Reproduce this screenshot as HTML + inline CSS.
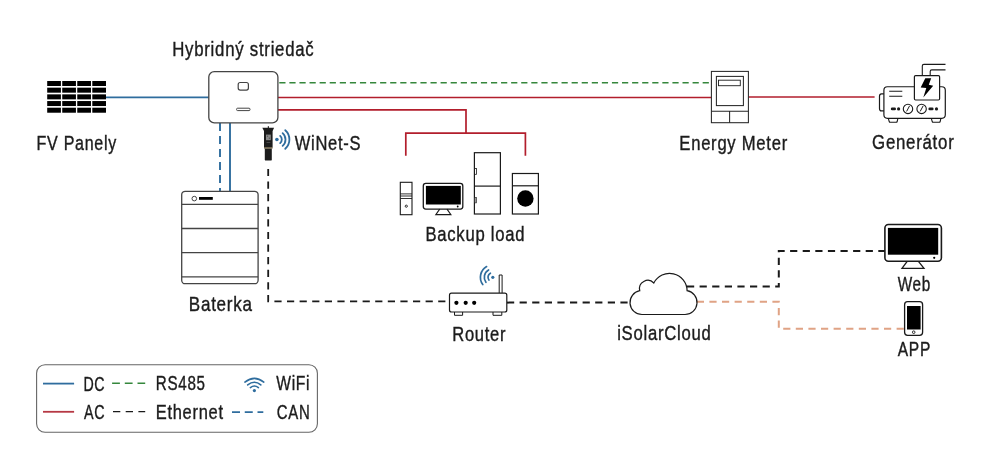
<!DOCTYPE html>
<html><head><meta charset="utf-8"><style>
html,body{margin:0;padding:0;background:#fff;}
svg{display:block;font-family:"Liberation Sans",sans-serif;will-change:transform;}
</style></head><body>
<svg width="1000" height="456" viewBox="0 0 1000 456">
<rect width="1000" height="456" fill="#fff"/>
<rect x="47.20" y="81.00" width="13.7" height="5" fill="#000"/>
<rect x="62.23" y="81.00" width="13.7" height="5" fill="#000"/>
<rect x="77.26" y="81.00" width="13.7" height="5" fill="#000"/>
<rect x="92.29" y="81.00" width="13.7" height="5" fill="#000"/>
<rect x="47.20" y="87.68" width="13.7" height="5" fill="#000"/>
<rect x="62.23" y="87.68" width="13.7" height="5" fill="#000"/>
<rect x="77.26" y="87.68" width="13.7" height="5" fill="#000"/>
<rect x="92.29" y="87.68" width="13.7" height="5" fill="#000"/>
<rect x="47.20" y="94.36" width="13.7" height="5" fill="#000"/>
<rect x="62.23" y="94.36" width="13.7" height="5" fill="#000"/>
<rect x="77.26" y="94.36" width="13.7" height="5" fill="#000"/>
<rect x="92.29" y="94.36" width="13.7" height="5" fill="#000"/>
<rect x="47.20" y="101.04" width="13.7" height="5" fill="#000"/>
<rect x="62.23" y="101.04" width="13.7" height="5" fill="#000"/>
<rect x="77.26" y="101.04" width="13.7" height="5" fill="#000"/>
<rect x="92.29" y="101.04" width="13.7" height="5" fill="#000"/>
<rect x="47.20" y="107.72" width="13.7" height="5" fill="#000"/>
<rect x="62.23" y="107.72" width="13.7" height="5" fill="#000"/>
<rect x="77.26" y="107.72" width="13.7" height="5" fill="#000"/>
<rect x="92.29" y="107.72" width="13.7" height="5" fill="#000"/>
<path d="M106,97.3 H208.8" stroke="#2f6d9e" stroke-width="1.7" fill="none"/>
<path d="M279.3,82.7 H711" stroke="#35873c" stroke-width="1.6" stroke-dasharray="6.2 3.88" fill="none"/>
<path d="M278,97.5 H711.4" stroke="#b21e2c" stroke-width="1.7" fill="none"/>
<path d="M748.4,97 H874.6" stroke="#b21e2c" stroke-width="1.7" fill="none"/>
<path d="M278,109.9 H466 V133.1" stroke="#b21e2c" stroke-width="1.7" fill="none"/>
<path d="M405.8,155.7 V133.1 H525.4 V155.7" stroke="#b21e2c" stroke-width="1.7" fill="none"/>
<path d="M220,123 V191.3" stroke="#2f6d9e" stroke-width="1.9" stroke-dasharray="8 5" fill="none"/>
<path d="M230,123 V191.3" stroke="#2f6d9e" stroke-width="1.9" fill="none"/>
<path d="M268.2,168.9 V301.3 H449.5" stroke="#1a1a1a" stroke-width="1.8" stroke-dasharray="7.2 5.4" fill="none"/>
<path d="M507,302.6 H630.3" stroke="#1a1a1a" stroke-width="2" stroke-dasharray="7.2 5.4" fill="none"/>
<path d="M687,286.5 H778.8 V251 H885" stroke="#1a1a1a" stroke-width="2" stroke-dasharray="7.2 5.4" fill="none"/>
<path d="M696.8,301.8 H778.8 V328.8 H904.6" stroke="#e0a385" stroke-width="2" stroke-dasharray="7.2 5.4" fill="none"/>
<rect x="208.8" y="71.6" width="69.1" height="51.3" rx="5.5" fill="#fff" stroke="#444444" stroke-width="1.3"/>
<rect x="238.2" y="82.5" width="10.2" height="7.6" rx="2" fill="none" stroke="#444444" stroke-width="1.2"/>
<rect x="236.6" y="108.2" width="13.4" height="2.4" rx="1" fill="none" stroke="#444444" stroke-width="1"/>
<rect x="181.7" y="191.3" width="76.4" height="92.4" rx="3.5" fill="#fff" stroke="#444444" stroke-width="1.3"/>
<path d="M181.7,204.3 H258.1" stroke="#444444" stroke-width="1.3"/>
<path d="M181.7,228.5 H258.1" stroke="#444444" stroke-width="1.3"/>
<path d="M181.7,252.6 H258.1" stroke="#444444" stroke-width="1.3"/>
<path d="M181.7,276.8 H258.1" stroke="#444444" stroke-width="1.3"/>
<circle cx="194.3" cy="198.6" r="2.3" fill="none" stroke="#444444" stroke-width="1"/>
<rect x="199" y="197" width="13.8" height="2.8" fill="#000"/>
<path d="M262.3,127.8 H274.1 L272.6,131 V147.6 H264 V131 Z" fill="#1c1c1c"/>
<rect x="267.8" y="126.2" width="1.1" height="2" fill="#1c1c1c"/>
<path d="M264.8,148.6 H271.8 V159.4 Q271.8,160.6 270.6,160.6 H266 Q264.8,160.6 264.8,159.4 Z" fill="#1c1c1c"/>
<rect x="264" y="147.4" width="8.6" height="1.1" fill="#5a4a26"/>
<rect x="266" y="134.6" width="4.8" height="5.6" fill="#8a8a8a"/>
<rect x="266.9" y="135.6" width="1.2" height="1.2" fill="#555"/><rect x="268.8" y="137.6" width="1.2" height="1.2" fill="#555"/>
<rect x="266.5" y="142" width="3.8" height="0.8" fill="#555"/>
<circle cx="276.9" cy="139.5" r="1.8" fill="#2f6d9e"/>
<path d="M280.18,135.86 A4.9,4.9 0 0 1 280.18,143.14" fill="none" stroke="#2f6d9e" stroke-width="1.8" stroke-linecap="round"/>
<path d="M282.65,133.11 A8.6,8.6 0 0 1 282.65,145.89" fill="none" stroke="#2f6d9e" stroke-width="1.8" stroke-linecap="round"/>
<path d="M285.26,130.21 A12.5,12.5 0 0 1 285.26,148.79" fill="none" stroke="#2f6d9e" stroke-width="1.8" stroke-linecap="round"/>
<rect x="400.3" y="182.3" width="11.7" height="32.4" fill="none" stroke="#1a1a1a" stroke-width="1.1"/>
<path d="M400.3,193.9 H412" stroke="#1a1a1a" stroke-width="0.9"/>
<path d="M400.3,196 H412" stroke="#1a1a1a" stroke-width="0.9"/>
<path d="M400.3,198.5 H412" stroke="#1a1a1a" stroke-width="0.9"/>
<circle cx="406.3" cy="206.2" r="1.1" fill="none" stroke="#1a1a1a" stroke-width="0.9"/>
<rect x="423.3" y="183.4" width="39.5" height="25.7" rx="2.5" fill="none" stroke="#1a1a1a" stroke-width="1.3"/>
<rect x="425.9" y="185.9" width="34.9" height="18.6" fill="#000"/>
<circle cx="457.7" cy="206.5" r="0.9" fill="#000"/>
<path d="M439.7,209.1 L435.8,214.6 H450.9 L447,209.1" fill="none" stroke="#1a1a1a" stroke-width="1.1"/>
<rect x="474.4" y="152.7" width="26" height="61.3" fill="none" stroke="#1a1a1a" stroke-width="1.2"/>
<path d="M474.4,186.1 H500.4" stroke="#1a1a1a" stroke-width="1.2"/>
<rect x="474.4" y="168.5" width="2.1" height="5.8" fill="none" stroke="#1a1a1a" stroke-width="0.8"/>
<rect x="474.4" y="197.3" width="2.1" height="5.6" fill="#999" stroke="#1a1a1a" stroke-width="0.6"/>
<rect x="512.4" y="173.5" width="26" height="40.5" fill="none" stroke="#1a1a1a" stroke-width="1.2"/>
<path d="M512.4,185.8 H538.4" stroke="#1a1a1a" stroke-width="1.2"/>
<circle cx="525.4" cy="198.5" r="8.2" fill="#000"/>
<rect x="711.4" y="71.4" width="37" height="51.3" fill="#fff" stroke="#262626" stroke-width="1.05"/>
<rect x="716.4" y="76.4" width="27" height="29.2" fill="none" stroke="#262626" stroke-width="1.05"/>
<rect x="718.5" y="80.2" width="21.8" height="5.5" fill="none" stroke="#262626" stroke-width="0.95"/>
<path d="M711.4,111.3 H748.4 M729.6,111.3 V122.7" stroke="#262626" stroke-width="1.05"/>
<path d="M914.4,86.75 H887.4 Q883.9,86.75 883.9,90.25 V114.8 Q883.9,118.3 887.4,118.3 H941.8 Q945.3,118.3 945.3,114.8 V90.25 Q945.3,86.75 941.8,86.75 H939.6" fill="none" stroke="#1a1a1a" stroke-width="1.2"/>
<path d="M883.9,93.8 H881.5 Q879.5,93.8 879.5,96.3 V108.4 Q879.5,110.9 881.5,110.9 H883.9" fill="none" stroke="#1a1a1a" stroke-width="1.2"/>
<path d="M922.3,75.6 V66 Q922.3,64.4 923.9,64.4 H945.5 M930.2,75.6 V71.5 Q930.2,69.9 931.8,69.9 H945.5" fill="none" stroke="#1a1a1a" stroke-width="1.1"/>
<rect x="914.4" y="75.6" width="25.2" height="24.4" rx="1.2" fill="#fff" stroke="#1a1a1a" stroke-width="1.2"/>
<path d="M925.3,78.3 L931.2,78.3 L928.8,84.7 L933.2,85.7 L923.3,97.5 L926.3,88.1 L920.7,87.4 Z" fill="#000"/>
<path d="M889.2,91.3 H902.3 M889.2,96.2 H902.3" stroke="#1a1a1a" stroke-width="1.1"/>
<circle cx="908" cy="108.9" r="4.7" fill="none" stroke="#1a1a1a" stroke-width="1.1"/>
<circle cx="921.6" cy="108.9" r="4.7" fill="none" stroke="#1a1a1a" stroke-width="1.1"/>
<path d="M906.6,111.4 L909.6,105.8 M920.2,111.4 L923.2,105.8" stroke="#1a1a1a" stroke-width="1"/>
<path d="M892.2,108.9 H894.6 M929.8,108.9 H932.2" stroke="#1a1a1a" stroke-width="2.8" stroke-linecap="round"/>
<circle cx="898.6" cy="108.9" r="1.6" fill="#1a1a1a"/><circle cx="936.5" cy="108.9" r="1.6" fill="#1a1a1a"/>
<path d="M888.3,118.3 L889.3,121.8 Q889.5,122.3 890.2,122.3 H896.2 Q896.9,122.3 897.1,121.8 L897.9,118.3 M931.3,118.3 L932.3,121.8 Q932.5,122.3 933.2,122.3 H939.2 Q939.9,122.3 940.1,121.8 L940.9,118.3" fill="none" stroke="#1a1a1a" stroke-width="1.1"/>
<path d="M499.2,293.2 V275 H502.1 V293.2" fill="#fff" stroke="#1a1a1a" stroke-width="1"/>
<rect x="449.5" y="293.2" width="57.3" height="18.8" rx="2" fill="#fff" stroke="#1a1a1a" stroke-width="1.2"/>
<circle cx="456.4" cy="302.8" r="2.1" fill="#000"/>
<circle cx="465.7" cy="302.8" r="2.1" fill="#000"/>
<circle cx="474.2" cy="302.8" r="2.1" fill="#000"/>
<path d="M454.5,312 V315.3 H462.6 V312 M493,312 V315.3 H501.8 V312" fill="none" stroke="#1a1a1a" stroke-width="1"/>
<circle cx="492.8" cy="277.3" r="1.6" fill="#2f6d9e"/>
<path d="M488.92,280.12 A4.8,4.8 0 0 1 490.40,273.14" fill="none" stroke="#2f6d9e" stroke-width="1.7" stroke-linecap="round"/>
<path d="M485.92,282.30 A8.5,8.5 0 0 1 488.55,269.94" fill="none" stroke="#2f6d9e" stroke-width="1.7" stroke-linecap="round"/>
<path d="M482.77,284.59 A12.4,12.4 0 0 1 486.60,266.56" fill="none" stroke="#2f6d9e" stroke-width="1.7" stroke-linecap="round"/>
<path d="M642,314.5 A12,12 0 0 1 639.75,290.71 A8.3,8.3 0 0 1 653.83,282.99 A17.6,17.6 0 0 1 687.10,290.68 A12,12 0 0 1 685,314.5 Z" fill="#fff" stroke="#1a1a1a" stroke-width="1.2"/>
<rect x="884.9" y="224.5" width="56.5" height="36.8" rx="3.5" fill="#fff" stroke="#1a1a1a" stroke-width="1.6"/>
<rect x="887.9" y="227.9" width="50.3" height="26.8" fill="#000"/>
<circle cx="934.2" cy="257.8" r="1.1" fill="#000"/>
<path d="M907.2,261.3 L902,268.3 H924 L918.4,261.3" fill="none" stroke="#1a1a1a" stroke-width="1.3"/>
<rect x="904.6" y="301.7" width="18" height="33.6" rx="3" fill="#fff" stroke="#1a1a1a" stroke-width="1.3"/>
<rect x="907" y="306" width="13.6" height="23.5" fill="#000"/>
<circle cx="913.7" cy="332.2" r="1.3" fill="none" stroke="#1a1a1a" stroke-width="0.9"/>
<rect x="36.6" y="364.7" width="280.8" height="67.6" rx="8.5" fill="none" stroke="#666" stroke-width="1.1"/>
<path d="M43,383.6 H74.1" stroke="#2f6d9e" stroke-width="1.8"/>
<path d="M43,411.8 H74.1" stroke="#b63844" stroke-width="1.8"/>
<path d="M112.1,383.3 H145.2" stroke="#35873c" stroke-width="1.6" stroke-dasharray="7.8 4.9"/>
<path d="M113,411.6 H145.2" stroke="#1a1a1a" stroke-width="1.4" stroke-dasharray="7.3 5.4"/>
<path d="M232,412.1 H263.3" stroke="#2f6d9e" stroke-width="1.7" stroke-dasharray="8 4.75"/>
<circle cx="254.4" cy="390.6" r="1.6" fill="#2f6d9e"/>
<path d="M244.9,382.1 Q254.4,374.5 263.8,382.1 M247.7,384.9 Q254.4,379.6 260.8,384.9 M250.4,387.6 Q254.4,384.4 258.4,387.6" fill="none" stroke="#2f6d9e" stroke-width="1.6" stroke-linecap="round"/>
<text transform="translate(172.22,56.30) scale(0.8211,1)" font-size="20.45" letter-spacing="0.9" fill="#1c1c1c" stroke="#1c1c1c" stroke-width="0.4">Hybridný striedač</text>
<text transform="translate(36.58,149.80) scale(0.7847,1)" font-size="20.45" letter-spacing="0.9" fill="#1c1c1c" stroke="#1c1c1c" stroke-width="0.4">FV Panely</text>
<text transform="translate(294.73,149.80) scale(0.8081,1)" font-size="20.45" letter-spacing="0.9" fill="#1c1c1c" stroke="#1c1c1c" stroke-width="0.4">WiNet-S</text>
<text transform="translate(188.80,311.40) scale(0.8335,1)" font-size="20.45" letter-spacing="0.9" fill="#1c1c1c" stroke="#1c1c1c" stroke-width="0.4">Baterka</text>
<text transform="translate(425.43,241.40) scale(0.8150,1)" font-size="20.45" letter-spacing="0.9" fill="#1c1c1c" stroke="#1c1c1c" stroke-width="0.4">Backup load</text>
<text transform="translate(679.33,149.70) scale(0.8140,1)" font-size="20.45" letter-spacing="0.9" fill="#1c1c1c" stroke="#1c1c1c" stroke-width="0.4">Energy Meter</text>
<text transform="translate(872.05,149.40) scale(0.8234,1)" font-size="20.45" letter-spacing="0.9" fill="#1c1c1c" stroke="#1c1c1c" stroke-width="0.4">Generátor</text>
<text transform="translate(452.24,340.60) scale(0.8088,1)" font-size="20.45" letter-spacing="0.9" fill="#1c1c1c" stroke="#1c1c1c" stroke-width="0.4">Router</text>
<text transform="translate(617.18,340.30) scale(0.8161,1)" font-size="20.45" letter-spacing="0.9" fill="#1c1c1c" stroke="#1c1c1c" stroke-width="0.4">iSolarCloud</text>
<text transform="translate(897.63,290.70) scale(0.7487,1)" font-size="20.45" letter-spacing="0.9" fill="#1c1c1c" stroke="#1c1c1c" stroke-width="0.4">Web</text>
<text transform="translate(897.77,356.40) scale(0.7607,1)" font-size="20.45" letter-spacing="0.9" fill="#1c1c1c" stroke="#1c1c1c" stroke-width="0.4">APP</text>
<text transform="translate(83.43,390.70) scale(0.6951,1)" font-size="20.45" letter-spacing="0.9" fill="#1c1c1c" stroke="#1c1c1c" stroke-width="0.4">DC</text>
<text transform="translate(84.07,418.80) scale(0.6998,1)" font-size="20.45" letter-spacing="0.9" fill="#1c1c1c" stroke="#1c1c1c" stroke-width="0.4">AC</text>
<text transform="translate(155.85,390.20) scale(0.7427,1)" font-size="20.45" letter-spacing="0.9" fill="#1c1c1c" stroke="#1c1c1c" stroke-width="0.4">RS485</text>
<text transform="translate(155.75,419.00) scale(0.8050,1)" font-size="20.45" letter-spacing="0.9" fill="#1c1c1c" stroke="#1c1c1c" stroke-width="0.4">Ethernet</text>
<text transform="translate(276.23,390.20) scale(0.7633,1)" font-size="20.45" letter-spacing="0.9" fill="#1c1c1c" stroke="#1c1c1c" stroke-width="0.4">WiFi</text>
<text transform="translate(276.84,419.00) scale(0.7308,1)" font-size="20.45" letter-spacing="0.9" fill="#1c1c1c" stroke="#1c1c1c" stroke-width="0.4">CAN</text>
</svg>
</body></html>
